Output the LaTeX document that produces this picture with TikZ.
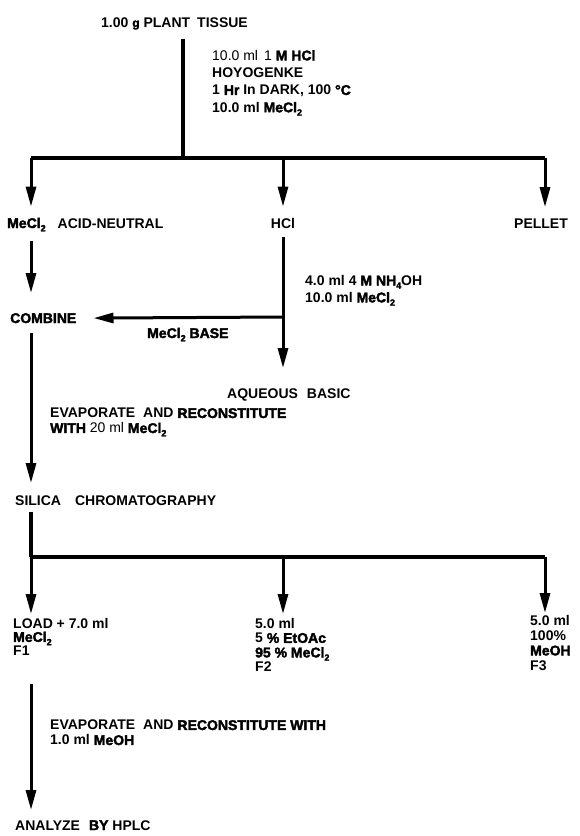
\documentclass[tikz,border=0pt]{standalone}
\usepackage{fontspec}
\setmainfont{Liberation Sans}
\newfontfamily\heavyfont{Liberation Sans Bold}[FakeBold=2.5,BoldFont={*},BoldFeatures={FakeBold=2.5}]
\usetikzlibrary{arrows.meta}
\usetikzlibrary{positioning}

\newcommand{\hv}[1]{{\heavyfont #1}}
\newcommand{\lowsub}[1]{\raisebox{-0.45ex}{\small #1}}
\newcommand{\mecl}{\hv{MeCl\lowsub{2}}}

\tikzset{
	lbl/.style={anchor=base west,inner sep=0pt,align=left,font=\fontsize{14}{16}\selectfont\bfseries},
	lead/.style={anchor=north west,font=\fontsize{14}{#1}\selectfont\bfseries},
	pipe/.style={line width=3.2pt},
	bar/.style={line width=4pt},
	flow/.style={line width=3pt,-{Triangle[length=20pt,width=10pt]}}
}

\begin{document}
\begin{tikzpicture}[x=1pt,y=-1pt]
		\useasboundingbox (0,0) rectangle (579,836);
		\node[lbl](tissue) at (101,27) {1.00 \hv{\large g} PLANT\hspace{7pt}TISSUE};
		\node[lbl,lead=17.3](hydro) at (212,50) {{\mdseries 10.0 ml\hspace{6pt}1} \hv{M HCl}\\ HOYOGENKE\\ 1 \hv{Hr} In DARK, 100 \hv{°C}\\ 10.0 ml \mecl};
		\coordinate (forkA) at (183,158);
		\coordinate (barAL) at (31,158);
		\coordinate (barAM) at (283,158);
		\coordinate (barAR) at (545,158);
		\node[lbl](acid) at (7,228) {\mecl\hspace{12pt}ACID-NEUTRAL};
		\node[lbl,anchor=base](hcl) at (283,228) {HCl};
		\node[lbl,anchor=base](pellet) at (541,228) {PELLET};
		\node[lbl,lead=17](base) at (305,275) {4.0 ml 4 \hv{M NH\lowsub{4}}OH\\ 10.0 ml \mecl};
		\node[lbl](combine) at (10,323) {\hv{COMBINE}};
		\coordinate (join) at (283,317);
		\node[lbl](mbase) at (147,338) {\mecl\ \hv{BASE}};
		\node[lbl](aqueous) at (227,398) {AQUEOUS\hspace{9pt}BASIC};
		\node[lbl,lead=15](evapA) at (50,408) {EVAPORATE\hspace{8pt}AND \hv{RECONSTITUTE}\\ \hv{WITH} {\mdseries 20 ml} \mecl};
		\node[lbl](silica) at (15,505) {SILICA\hspace{14pt}CHROMATOGRAPHY};
		\coordinate (barBL) at (31,557);
		\coordinate (barBM) at (283,557);
		\coordinate (barBR) at (545,557);
		\node[lbl,lead=13.5](load) at (13,618) {LOAD + 7.0 ml\\ \mecl\\ F1};
		\node[lbl,lead=14.5](ethyl) at (255,618) {5.0 ml\\ 5 \hv{\% EtOAc}\\ \hv{95 \% MeCl\lowsub{2}}\\ F2};
		\node[lbl,lead=15](meoh) at (530,615) {5.0 ml\\ 100\%\\ \hv{MeOH}\\ F3};
		\node[lbl,lead=15](evapB) at (50,720) {EVAPORATE\hspace{8pt}AND \hv{RECONSTITUTE WITH}\\ 1.0 ml \hv{MeOH}};
		\node[lbl](analyze) at (15,830) {ANALYZE\hspace{9pt}\hv{BY}\hspace{4pt}HPLC};
		\draw[pipe,shorten <=9pt] (tissue.south -| forkA) -- (forkA);
		\draw[bar] (barAL) -- (barAR);
		\draw[flow,shorten >=11pt] (barAL) -- (barAL |- acid.north);
		\draw[flow,shorten >=11pt] (barAM) -- (barAM |- hcl.north);
		\draw[flow,shorten >=11pt] (barAR) -- (barAR |- pellet.north);
		\draw[flow,shorten <=9pt,shorten >=20pt] (acid.south -| barAL) -- (combine.north -| barAL);
		\draw[flow,shorten <=9pt,shorten >=20pt] (hcl.south -| barAM) -- (aqueous.north -| barAM);
		\draw[flow,shorten >=17pt] (join) -- (combine.east);
		\draw[flow,shorten <=10pt,shorten >=12pt] (combine.south -| barBL) -- (silica.north -| barBL);
		\draw[pipe,shorten <=7pt] (silica.south -| barBL) -- (barBL);
		\draw[pipe] (barBL) -- (barBR);
		\draw[flow,shorten >=4pt] (barBL) -- (barBL |- load.north);
		\draw[flow,shorten >=4pt] (barBM) -- (barBM |- ethyl.north);
		\draw[flow,shorten >=2pt] (barBR) -- (barBR |- meoh.north);
		\draw[flow,shorten <=28pt,shorten >=10pt] (load.south -| barBL) -- (analyze.north -| barBL);
	\end{tikzpicture}
\end{document}
